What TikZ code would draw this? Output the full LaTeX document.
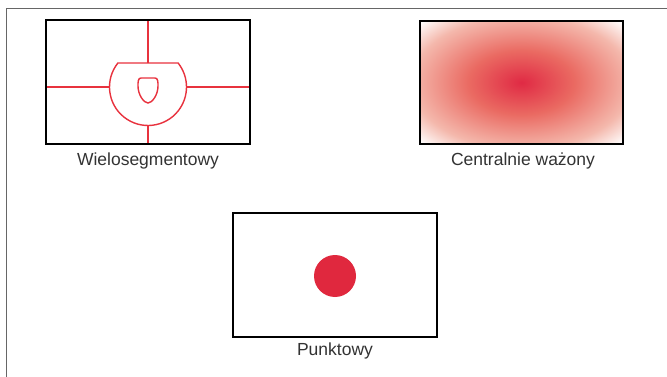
\documentclass[tikz,border=0pt]{standalone}
\usepackage{fontspec}
\setmainfont{Liberation Sans}
\definecolor{segred}{HTML}{E8323E}
\definecolor{dotred}{HTML}{E0283E}
\definecolor{gc}{HTML}{E02A44}
\definecolor{gm}{HTML}{EA6A62}
\definecolor{go}{HTML}{F4B8AC}
\definecolor{txt}{HTML}{333333}
\definecolor{frame}{HTML}{666666}
\pgfdeclareradialshading{centerw}{\pgfpoint{0bp}{0bp}}{%
  color(0bp)=(gc); color(2bp)=(gc!85!gm); color(13bp)=(gm); color(27bp)=(go); color(35bp)=(white); color(50bp)=(white)}
\tikzset{
  boxframe/.style={draw=black, line width=2pt},
  segline/.style={draw=segred, line width=1.4pt},
  lbl/.style={text=txt, font=\fontsize{17.5}{17.5}\selectfont, anchor=base, inner sep=0pt}
}
\begin{document}
\begin{tikzpicture}[x=1pt, y=-1pt]
\useasboundingbox (0,0) rectangle (667,377);
\fill[white] (0,0) rectangle (667,377);
% outer frame (top and left)
\draw[frame, line width=1.3pt] (6.5,377) -- (6.5,8.5) -- (667,8.5);

% --- Wielosegmentowy ---
\coordinate (c1) at (148,87);
\draw[segline] (148,20) -- (148,63);
\draw[segline] (148,125.5) -- (148,144);
\draw[segline] (46,87) -- (109.5,87);
\draw[segline] (186.5,87) -- (250,87);
\draw[segline] (c1) ++(141.5:38.5pt) arc[start angle=141.5, end angle=398.5, radius=38.5pt] -- cycle;
\draw[segline] (141,78) -- (155,78) .. controls (158,78) and (158,82) .. (158,86)
  .. controls (158,95) and (152,103) .. (148,103)
  .. controls (144,103) and (138,95) .. (138,86)
  .. controls (138,82) and (138,78) .. (141,78) -- cycle;
\draw[boxframe] (46,20) rectangle (250,144);
\node[lbl] (l1) at (148,166) {Wielosegmentowy};

% --- Centralnie ważony ---
\path[shading=centerw] (420,21) rectangle (623,144);
\draw[boxframe] (420,21) rectangle (623,144);
\node[lbl] (l2) at (523,166) {Centralnie ważony};

% --- Punktowy ---
\draw[boxframe] (233,213) rectangle (437,337);
\fill[dotred] (335,276) circle[radius=21pt];
\node[lbl] (l3) at (335,355) {Punktowy};
\end{tikzpicture}
\end{document}
